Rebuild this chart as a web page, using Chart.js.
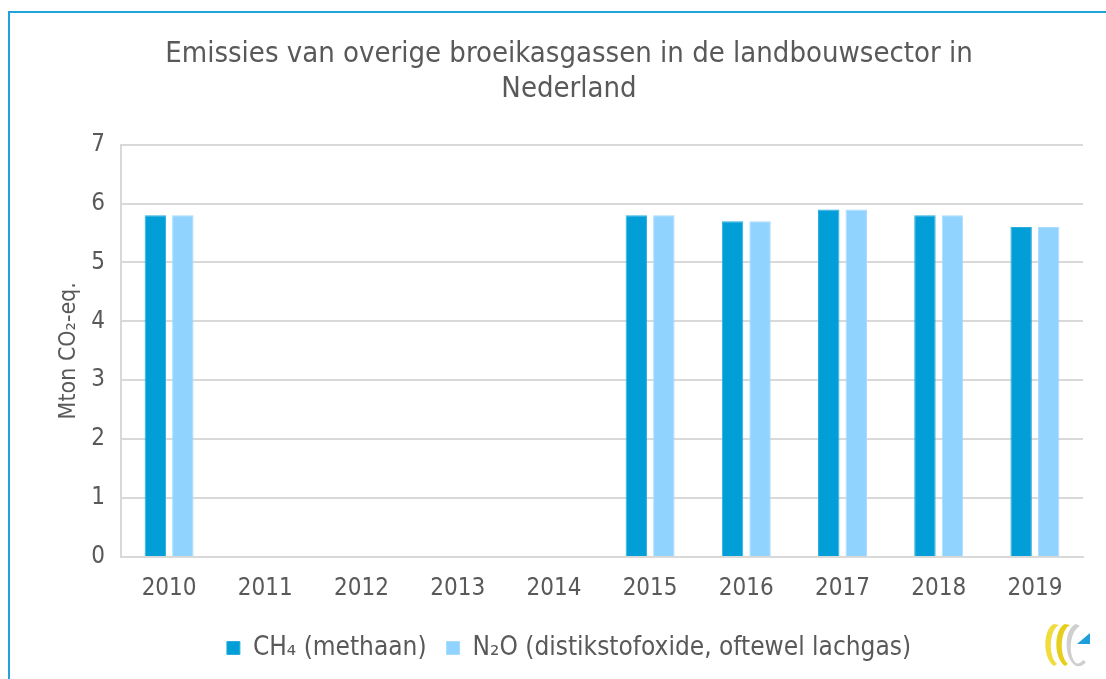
<!DOCTYPE html>
<html>
<head>
<meta charset="utf-8">
<script src="https://cdn.jsdelivr.net/npm/chart.js@4.4.1/dist/chart.umd.min.js"></script>
<style>
  html, body { margin: 0; padding: 0; background: #fff; overflow: hidden; }
  #frame {
    position: absolute; left: 8px; top: 11px; width: 1200px; height: 800px;
    border-left: 2px solid #1ea3db; border-top: 2px solid #1ea3db;
  }
  #wrap { position: absolute; left: 0; top: 0; width: 1106px; height: 679px; }
  #logo { position: absolute; left: 1038px; top: 620px; }
</style>
</head>
<body>
<div id="frame"></div>
<div id="wrap"><canvas id="chart" width="1106" height="679"></canvas></div>
<svg id="logo" width="56" height="50" viewBox="0 0 56 50">
  <path d="M16 4 C5 8 4 38 16 46 L19 44 C10 36 11 10 21 5 Z" fill="#f0dc3c"/>
  <path d="M27 4 C16 8 15 38 27 46 L30 44 C21 36 22 10 32 5 Z" fill="#e6cf1c"/>
  <path d="M38 4 C26 8 25 38 38 46 C42 47 46 45 48 42 L45 40 C43 43 40 44 38 43 C30 36 31 12 42 6 Z" fill="#cfcfcf"/>
  <path d="M39 24 L52 13 L52 24 Z" fill="#1e9fdc"/>
</svg>
<script>
const years = ["2010", "2011", "2012", "2013", "2014", "2015", "2016", "2017", "2018", "2019"];
const methaan = [5.8, null, null, null, null, 5.8, 5.7, 5.9, 5.8, 5.6];
const lachgas = [5.8, null, null, null, null, 5.8, 5.7, 5.9, 5.8, 5.6];
const yTicks = [0, 1, 2, 3, 4, 5, 6, 7];

const textColor = "#595959";
const gridColor = "#d9d9d9";
const font = "'DejaVu Sans Condensed', 'DejaVu Sans', sans-serif";

new Chart(document.getElementById("chart").getContext("2d"), {
  type: "bar",
  data: {
    labels: years,
    datasets: [
      {
        label: "CH\u2084 (methaan)",
        data: methaan,
        backgroundColor: "#029ed8",
        borderColor: "#2aaee0",
        borderWidth: 1,
        categoryPercentage: 0.572,
        barPercentage: 0.78,
      },
      {
        label: "N\u2082O (distikstofoxide, oftewel lachgas)",
        data: lachgas,
        backgroundColor: "#8fd3fe",
        borderColor: "#a8dcfe",
        borderWidth: 1,
        categoryPercentage: 0.572,
        barPercentage: 0.78,
      },
    ],
  },
  options: {
    responsive: false,
    animation: false,
    layout: { padding: { left: 55, right: 23, top: 37, bottom: 8 } },
    plugins: {
      tooltip: { enabled: false },
      title: {
        display: true,
        text: ["Emissies van overige broeikasgassen in de landbouwsector in", "Nederland"],
        color: textColor,
        font: { family: font, size: 29, weight: "normal", lineHeight: 1.2 },
        padding: { top: 0, bottom: 38 },
      },
      legend: {
        position: "bottom",
        labels: {
          color: textColor,
          font: { family: font, size: 26 },
          boxWidth: 13,
          boxHeight: 13,
          padding: 20,
        },
      },
    },
    scales: {
      x: {
        afterFit: (s) => { s.height = 58; },
        grid: {
          color: (c) => (c.index === 0 || c.index === years.length ? gridColor : "transparent"),
          lineWidth: 2,
          drawTicks: false,
        },
        border: { display: true, color: gridColor, width: 2 },
        ticks: { color: textColor, font: { family: font, size: 24 }, padding: 17 },
      },
      y: {
        min: 0,
        max: 7,
        afterFit: (s) => { s.width = 66; },
        afterBuildTicks: (s) => { s.ticks = yTicks.map((v) => ({ value: v })); },
        grid: { color: gridColor, lineWidth: 2, drawTicks: false },
        border: { display: true, color: gridColor, width: 2 },
        ticks: { color: textColor, font: { family: font, size: 24 }, padding: 16 },
        title: {
          display: true,
          text: "Mton CO\u2082-eq.",
          color: textColor,
          font: { family: font, size: 23 },
          padding: { top: 0, bottom: 4 },
        },
      },
    },
  },
});
</script>
</body>
</html>
